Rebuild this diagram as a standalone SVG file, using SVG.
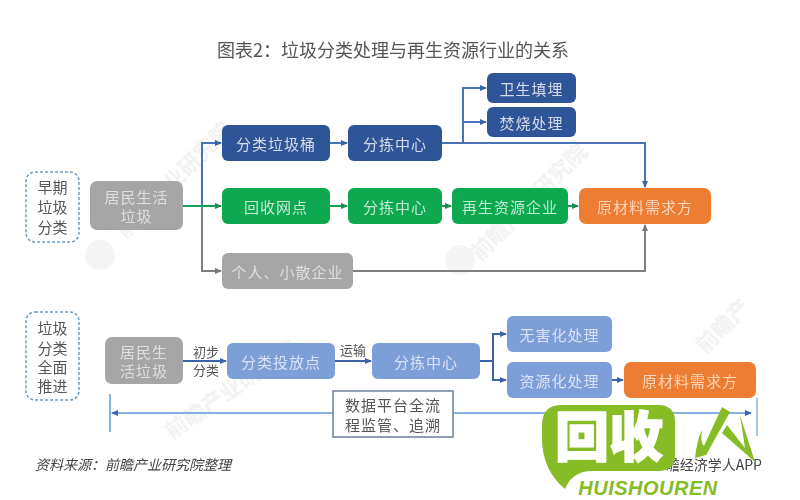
<svg xmlns="http://www.w3.org/2000/svg" width="800" height="500" viewBox="0 0 800 500">
<style>
text{font-family:"Noto Sans CJK SC","Liberation Sans",sans-serif;text-anchor:middle}
.l{font-size:15px;letter-spacing:1px;dominant-baseline:central}
.lab{font-size:15px;fill:#555;dominant-baseline:central}
.s{font-size:13px;fill:#555;dominant-baseline:central}
.wm{font-size:22px;fill:#f3f3f3;font-weight:700;text-anchor:start}
.db{fill:#2f5597}.gr{fill:#0aa84f}.gy{fill:#a6a6a6}.or{fill:#ed7d31}.lb{fill:#7c9fd8}
.tw{fill:#d5dcea}.tg{fill:#c4ead4}.ty{fill:#dedede}.to{fill:#fad5ba}.tl{fill:#d8e3f5}
.dash{fill:#fff;stroke:#6f9cc0;stroke-width:1.5;stroke-dasharray:3 2}
.c{fill:none;stroke-width:2}
.cb{stroke:#4a72b8}.cg{stroke:#12a055}.cy{stroke:#7f7f7f}.cd{stroke:#3b64a8}.ct{stroke:#5b9bd5;stroke-width:1.5}
</style>
<defs>
<marker id="ab" markerUnits="userSpaceOnUse" markerWidth="7" markerHeight="7" refX="6" refY="3.500" orient="auto"><path d="M0 0.500L7 3.500L0 6.500Z" fill="#3b64a8"/></marker>
<marker id="ag" markerUnits="userSpaceOnUse" markerWidth="7" markerHeight="7" refX="6" refY="3.500" orient="auto"><path d="M0 0.500L7 3.500L0 6.500Z" fill="#1b8a4c"/></marker>
<marker id="ay" markerUnits="userSpaceOnUse" markerWidth="7" markerHeight="7" refX="6" refY="3.500" orient="auto"><path d="M0 0.500L7 3.500L0 6.500Z" fill="#777"/></marker>
<filter id="soft" x="-5%" y="-5%" width="110%" height="110%"><feGaussianBlur stdDeviation="0.5"/></filter>
</defs>
<rect width="800" height="500" fill="#fff"/>
<g id="watermarks">
<text class="wm" transform="translate(125 240) rotate(-45)">前瞻产业研究院</text>
<text class="wm" transform="translate(480 262) rotate(-45)">前瞻产业研究院</text>
<text class="wm" transform="translate(172 440) rotate(-35)">前瞻产业研究院</text>
<text class="wm" transform="translate(705 355) rotate(-45)">前瞻产</text>
<circle cx="100" cy="255" r="15" fill="#f5f5f5"/>
<circle cx="460" cy="260" r="15" fill="#f5f5f5"/>
</g>
<g filter="url(#soft)">
<text id="title" x="393" y="49" font-size="18" fill="#555" style="dominant-baseline:central">图表2：垃圾分类处理与再生资源行业的关系</text>
<g id="connectors">
<path class="c cb" d="M202 206V143H221" marker-end="url(#ab)"/>
<path class="c cy" d="M202 206V271H221" marker-end="url(#ay)"/>
<path class="c cg" d="M183 206H221" stroke-width="2.500" marker-end="url(#ag)"/>
<path class="c cb" d="M330 143H347" marker-end="url(#ab)"/>
<path class="c cg" d="M330 206H347" marker-end="url(#ag)"/>
<path class="c cg" d="M442 206H451" marker-end="url(#ag)"/>
<path class="c cg" d="M568 206H578" marker-end="url(#ag)"/>
<path class="c cb" d="M442 143H645V187" marker-end="url(#ab)"/>
<path class="c cb" d="M463 143V88H486" marker-end="url(#ab)"/>
<path class="c cb" d="M463 122H486" marker-end="url(#ab)"/>
<path class="c cy" d="M353 271H645V225" marker-end="url(#ay)"/>
<path class="c cd" d="M183 361H226" stroke-width="2.500" marker-end="url(#ab)"/>
<path class="c cd" d="M335 361H371" marker-end="url(#ab)"/>
<path class="c cd" d="M480 361H493V334H506" marker-end="url(#ab)"/>
<path class="c cd" d="M493 361V380H506" marker-end="url(#ab)"/>
<path class="c cd" d="M612 380H623" marker-end="url(#ab)"/>
<path class="c ct" d="M333 413H112" marker-end="url(#ab)"/>
<path class="c ct" d="M453 413H751" marker-end="url(#ab)"/>
<path class="c ct" d="M110 394V432"/>
<path class="c" stroke="#a9c6e2" d="M757 398V436"/>
</g>
<g id="n-early"><rect class="dash" x="26" y="172" width="53" height="70" rx="9"/><text class="lab" x="52.500" y="186">早期</text><text class="lab" x="52.500" y="206">垃圾</text><text class="lab" x="52.500" y="226">分类</text></g>
<g id="n-waste1"><rect class="gy" x="90" y="181" width="93" height="49" rx="7"/><text class="l ty" x="136.500" y="196">居民生活</text><text class="l ty" x="136.500" y="215">垃圾</text></g>
<g id="n-bin"><rect class="db" x="222" y="125" width="108" height="36" rx="6"/><text class="l tw" x="276" y="143">分类垃圾桶</text></g>
<g id="n-sort1"><rect class="db" x="348" y="125" width="94" height="36" rx="6"/><text class="l tw" x="395" y="143">分拣中心</text></g>
<g id="n-landfill"><rect class="db" x="487" y="73" width="89" height="30" rx="6"/><text class="l tw" x="531.500" y="88">卫生填埋</text></g>
<g id="n-burn"><rect class="db" x="487" y="107" width="89" height="30" rx="6"/><text class="l tw" x="531.500" y="122">焚烧处理</text></g>
<g id="n-recycle"><rect class="gr" x="222" y="188" width="108" height="36" rx="6"/><text class="l tg" x="276" y="206">回收网点</text></g>
<g id="n-sort2"><rect class="gr" x="348" y="188" width="94" height="36" rx="6"/><text class="l tg" x="395" y="206">分拣中心</text></g>
<g id="n-renew"><rect class="gr" x="452" y="188" width="116" height="36" rx="6"/><text class="l tg" x="510" y="206">再生资源企业</text></g>
<g id="n-raw1"><rect class="or" x="579" y="188" width="132" height="36" rx="7"/><text class="l to" x="645" y="206">原材料需求方</text></g>
<g id="n-small"><rect class="gy" x="222" y="253" width="131" height="36" rx="6"/><text class="l ty" x="287.500" y="271">个人、小散企业</text></g>
<g id="n-full"><rect class="dash" x="26" y="312" width="53" height="88" rx="9"/><text class="lab" x="52.500" y="327">垃圾</text><text class="lab" x="52.500" y="347">分类</text><text class="lab" x="52.500" y="366">全面</text><text class="lab" x="52.500" y="385">推进</text></g>
<g id="n-waste2"><rect class="gy" x="105" y="337" width="78" height="47" rx="7"/><text class="l ty" x="144" y="351">居民生</text><text class="l ty" x="144" y="370">活垃圾</text></g>
<g id="n-drop"><rect class="lb" x="227" y="343" width="108" height="36" rx="6"/><text class="l tl" x="281" y="361">分类投放点</text></g>
<g id="n-sort3"><rect class="lb" x="372" y="343" width="108" height="36" rx="6"/><text class="l tl" x="426" y="361">分拣中心</text></g>
<g id="n-safe"><rect class="lb" x="507" y="316" width="105" height="36" rx="6"/><text class="l tl" x="559.500" y="334">无害化处理</text></g>
<g id="n-res"><rect class="lb" x="507" y="362" width="105" height="36" rx="6"/><text class="l tl" x="559.500" y="380">资源化处理</text></g>
<g id="n-raw2"><rect class="or" x="624" y="362" width="132" height="36" rx="7"/><text class="l to" x="690" y="380">原材料需求方</text></g>
<g id="n-platform"><rect x="333" y="391" width="120" height="46" fill="#fff" stroke="#6b7f99" stroke-width="1.500"/><text class="lab" x="393" y="404" style="letter-spacing:1px">数据平台全流</text><text class="lab" x="393" y="424" style="letter-spacing:1px">程监管、追溯</text></g>
<g id="labels">
<text class="s" x="206" y="351">初步</text><text class="s" x="206" y="369">分类</text>
<text class="s" x="353" y="349">运输</text>
<text x="133" y="464" font-size="14" fill="#444" font-style="italic" style="dominant-baseline:central">资料来源：前瞻产业研究院整理</text>
<text x="762" y="464" font-size="14" fill="#444" style="dominant-baseline:central;text-anchor:end">瞻经济学人APP</text>
</g>
</g>
<g id="logo">
<path d="M562 405H658Q675 405 675 422V455Q675 471 658 471H590Q572 472 565 489Q542 470 542 438V425Q542 405 562 405Z" fill="#86bc25"/>
<text x="609" y="457" font-size="54" font-weight="900" fill="#fff" stroke="#fff" stroke-width="1.500">回收</text>
<path d="M722 407L730 412L706 455L695 458Q697 440 702 430Q700 442 704 446Z" fill="#86bc25"/>
<path d="M740 415L755 462L722 433L727 425L745 448Z" fill="#86bc25"/>
<text x="648" y="495" font-size="20" font-weight="900" font-style="italic" fill="#86bc25" style="font-family:'Liberation Sans',sans-serif;letter-spacing:.5px">HUISHOUREN</text>
</g>
</svg>
